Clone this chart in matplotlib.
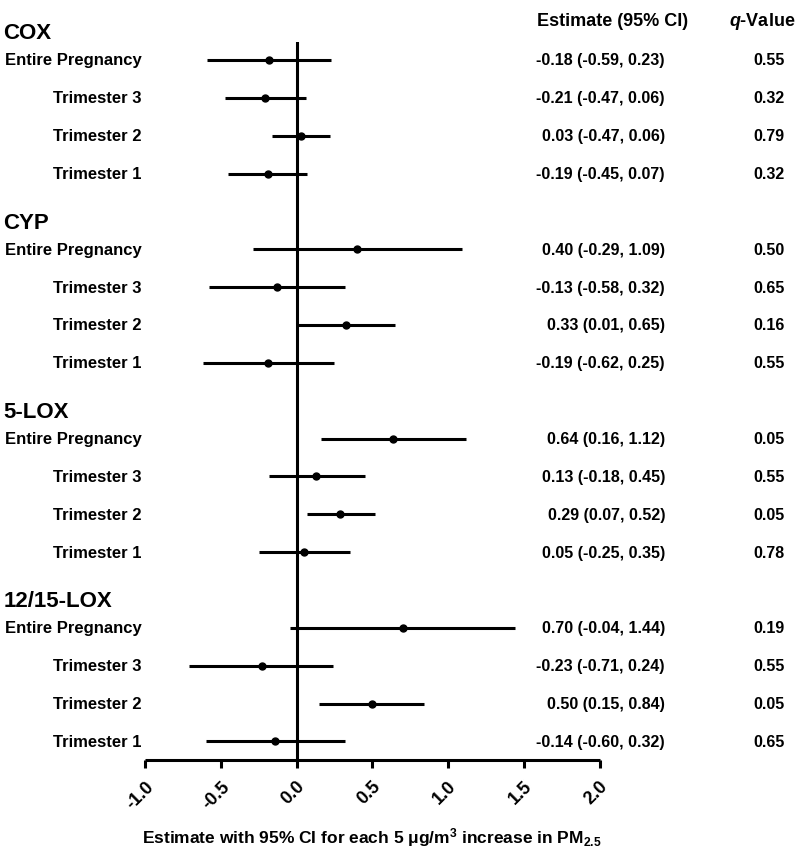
import matplotlib
matplotlib.use("Agg")
import matplotlib.pyplot as plt
from matplotlib.transforms import blended_transform_factory

plt.rcParams['font.family'] = ['Liberation Sans', 'DejaVu Sans']
plt.rcParams['font.weight'] = 'bold'
plt.rcParams['mathtext.fontset'] = 'custom'
plt.rcParams['mathtext.rm'] = 'Liberation Sans:bold'
plt.rcParams['mathtext.it'] = 'Liberation Sans:italic:bold'
plt.rcParams['mathtext.bf'] = 'Liberation Sans:bold'
plt.rcParams['mathtext.default'] = 'regular'

# ---- data ----
groups = ["COX", "CYP", "5-LOX", "12/15-LOX"]
periods = ["Entire Pregnancy", "Trimester 3", "Trimester 2", "Trimester 1"]

cox_est = [-0.18, -0.21, 0.03, -0.19]
cox_lo = [-0.59, -0.47, -0.16, -0.45]
cox_hi = [0.23, 0.06, 0.22, 0.07]
cox_q = ["0.55", "0.32", "0.79", "0.32"]
cox_txt = ["-0.18 (-0.59, 0.23)", "-0.21 (-0.47, 0.06)", "0.03 (-0.47, 0.06)", "-0.19 (-0.45, 0.07)"]

cyp_est = [0.40, -0.13, 0.33, -0.19]
cyp_lo = [-0.29, -0.58, 0.01, -0.62]
cyp_hi = [1.09, 0.32, 0.65, 0.25]
cyp_q = ["0.50", "0.65", "0.16", "0.55"]
cyp_txt = ["0.40 (-0.29, 1.09)", "-0.13 (-0.58, 0.32)", "0.33 (0.01, 0.65)", "-0.19 (-0.62, 0.25)"]

lox5_est = [0.64, 0.13, 0.29, 0.05]
lox5_lo = [0.16, -0.18, 0.07, -0.25]
lox5_hi = [1.12, 0.45, 0.52, 0.35]
lox5_q = ["0.05", "0.55", "0.05", "0.78"]
lox5_txt = ["0.64 (0.16, 1.12)", "0.13 (-0.18, 0.45)", "0.29 (0.07, 0.52)", "0.05 (-0.25, 0.35)"]

lox12_est = [0.70, -0.23, 0.50, -0.14]
lox12_lo = [-0.04, -0.71, 0.15, -0.60]
lox12_hi = [1.44, 0.24, 0.84, 0.32]
lox12_q = ["0.19", "0.55", "0.05", "0.65"]
lox12_txt = ["0.70 (-0.04, 1.44)", "-0.23 (-0.71, 0.24)", "0.50 (0.15, 0.84)", "-0.14 (-0.60, 0.32)"]

xticks = [-1.0, -0.5, 0.0, 0.5, 1.0, 1.5, 2.0]
xticklabels = ["-1.0", "-0.5", "0.0", "0.5", "1.0", "1.5", "2.0"]

all_est = [cox_est, cyp_est, lox5_est, lox12_est]
all_lo = [cox_lo, cyp_lo, lox5_lo, lox12_lo]
all_hi = [cox_hi, cyp_hi, lox5_hi, lox12_hi]
all_q = [cox_q, cyp_q, lox5_q, lox12_q]
all_txt = [cox_txt, cyp_txt, lox5_txt, lox12_txt]

# ---- figure ----
W, H = 800, 854
fig = plt.figure(figsize=(W / 100, H / 100), dpi=100)
ax = fig.add_axes([145 / W, 1 - 761 / H, (599.5 - 145) / W, (761 - 43) / H])

lw = 2.2
ax.axvline(0, color='black', lw=lw, zorder=1)

blend = blended_transform_factory(fig.transFigure, ax.transData)
fs = 12
for g, name in enumerate(groups):
    base = g * 5
    ax.text(3.5 / W, base - 0.72, name, transform=blend, ha='left', va='center',
            fontsize=16, fontweight='bold')
    for i, per in enumerate(periods):
        y = base + i
        est, lo, hi = all_est[g][i], all_lo[g][i], all_hi[g][i]
        ax.plot([lo, hi], [y, y], color='black', lw=lw, solid_capstyle='butt', zorder=2)
        ax.plot([est], [y], 'o', color='black', markersize=5, zorder=3)
        ax.text(141.5 / W, y, per, transform=blend, ha='right', va='center',
                fontsize=fs, fontweight='bold')
        ax.text(665 / W, y, all_txt[g][i], transform=blend, ha='right', va='center',
                fontsize=11.5, fontweight='bold')
        ax.text(785 / W, y, all_q[g][i], transform=blend, ha='right', va='center',
                fontsize=11.5, fontweight='bold')

fig.text(613 / W, 1 - 22 / H, "Estimate (95% CI)", ha='center', va='center',
         fontsize=13, fontweight='bold')
fig.text(762 / W, 1 - 22 / H, r"$\mathit{q}$-Value", ha='center', va='center',
         fontsize=13, fontweight='bold')

ax.set_xlim(-1.0, 2.0)
ax.set_ylim(18.49, -0.475)
ax.set_xticks(xticks)
ax.set_xticklabels(xticklabels, rotation=45, ha='right', va='top',
                   rotation_mode='anchor', fontsize=13, fontweight='bold')
ax.tick_params(axis='x', direction='out', length=5.5, width=lw, pad=7)
ax.set_yticks([])
for s in ['left', 'right', 'top']:
    ax.spines[s].set_visible(False)
ax.spines['bottom'].set_linewidth(lw)
ax.spines['bottom'].set_capstyle('butt')
ax.patch.set_alpha(0)

ax.set_xlabel("Estimate with 95% CI for each 5 \u03bcg/m$^{3}$ increase in PM$_{2.5}$",
              fontsize=12.5, fontweight='bold')
ax.xaxis.set_label_coords(0.5, -(838 - 761) / (761 - 43))
ax.xaxis.label.set_verticalalignment('center')

fig.savefig("out.png", dpi=100)
